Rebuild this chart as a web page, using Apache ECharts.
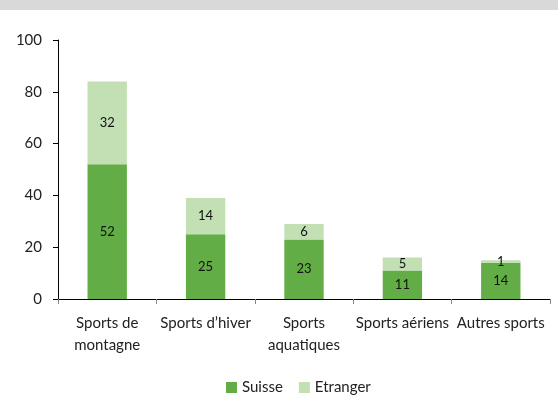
<!DOCTYPE html>
<html><head><meta charset="utf-8">
<script src="https://cdn.jsdelivr.net/npm/echarts@6/dist/echarts.min.js"></script>
<style>html,body{margin:0;padding:0;background:#fff}#c{width:558px;height:401px}</style>
</head><body><div id="c"></div>
<script>
const categories = ["Sports de\nmontagne", "Sports d\u2019hiver", "Sports\naquatiques", "Sports a\u00e9riens", "Autres sports"];
const suisse = [52, 25, 23, 11, 14];
const etranger = [32, 14, 6, 5, 1];
const yTicks = [0, 20, 40, 60, 80, 100];
const FONT = "Lato";
const chart = echarts.init(document.getElementById('c'));
chart.setOption({
  animation: false,
  textStyle: {fontFamily: FONT},
  graphic: [{type: 'rect', shape: {x: 0, y: 0, width: 558, height: 10}, style: {fill: '#d9d9d9'}, silent: true}],
  grid: {left: 58, right: 8, top: 40, bottom: 102},
  legend: {
    bottom: 1, left: 221, itemWidth: 11, itemHeight: 11, itemGap: 16,
    icon: 'rect',
    textStyle: {fontSize: 15, color: '#222', fontFamily: FONT},
    data: ['Suisse', 'Etranger']
  },
  xAxis: {
    type: 'category', data: categories,
    axisLine: {lineStyle: {color: '#000', width: 1}},
    axisTick: {show: true, length: 5, lineStyle: {color: '#888'}},
    axisLabel: {color: '#222', fontSize: 15, margin: 13, lineHeight: 22, interval: 0, fontFamily: FONT}
  },
  yAxis: {
    type: 'value', min: 0, max: 100, interval: 20,
    axisLine: {show: true, lineStyle: {color: '#000', width: 1}},
    axisTick: {show: true, length: 5, lineStyle: {color: '#000'}},
    splitLine: {show: false},
    axisLabel: {color: '#222', fontSize: 15, margin: 16, fontFamily: FONT,
      formatter: v => yTicks.includes(v) ? String(v) : ''}
  },
  series: [
    {name: 'Suisse', type: 'bar', stack: 'a', data: suisse, barWidth: '40%',
     itemStyle: {color: '#62ad45'},
     label: {show: true, position: 'inside', color: '#111', fontSize: 13, fontFamily: FONT}},
    {name: 'Etranger', type: 'bar', stack: 'a', data: etranger, barWidth: '40%',
     itemStyle: {color: '#c2e0b4'},
     label: {show: true, position: 'inside', color: '#111', fontSize: 13, fontFamily: FONT}}
  ]
});
</script></body></html>
